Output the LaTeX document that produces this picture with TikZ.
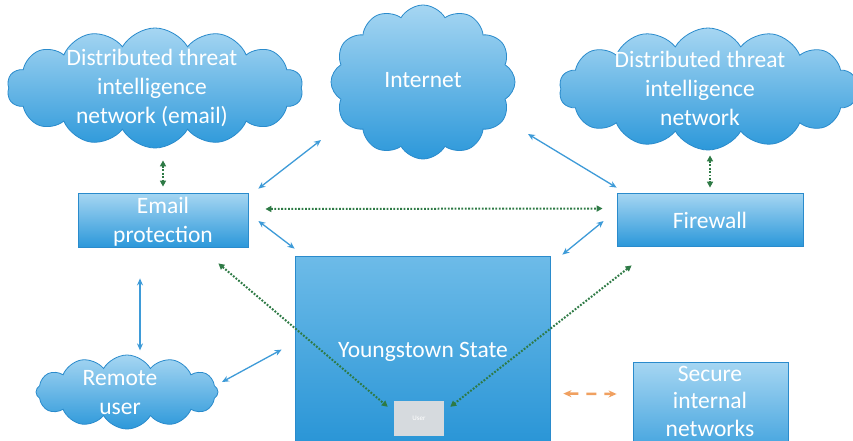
\documentclass[tikz,border=0pt]{standalone}
\usepackage{fontspec}
\setmainfont{Carlito}
\usetikzlibrary{shapes.symbols,arrows.meta,calc}
\definecolor{ftop}{HTML}{A6D6F2}
\definecolor{fbot}{HTML}{2C98DA}
\definecolor{ytop}{HTML}{6DBBE8}
\definecolor{ybot}{HTML}{2090D4}
\definecolor{edgeblue}{HTML}{2A8BCC}
\definecolor{barr}{HTML}{3E9BD8}
\definecolor{gdot}{HTML}{2E7A45}
\definecolor{oarr}{HTML}{F0A060}
\definecolor{usergrey}{HTML}{D6DADE}
\tikzset{
  cloudshape/.style={cloud, cloud puffs=#1, cloud puff arc=120, draw=edgeblue, line width=0.8pt,
    top color=ftop, bottom color=fbot, inner sep=0pt, cloud ignores aspect},
  cloudshape/.default=12,
  boxshape/.style={rectangle, draw=edgeblue, line width=0.8pt, top color=ftop, bottom color=fbot, inner sep=0pt},
  lbl/.style={text=white, font=\fontsize{23.5}{29}\selectfont, align=center, inner sep=0pt},
  barrow/.style={draw=barr, line width=1.3pt, {Stealth[length=7pt,width=6pt]}-{Stealth[length=7pt,width=6pt]}},
  garrow/.style={draw=gdot, line width=2pt, dash pattern=on 1.8pt off 1.6pt,
    {Triangle[length=6pt,width=6pt]}-{Triangle[length=6pt,width=6pt]}},
  oarrow/.style={draw=oarr, line width=2.5pt, dash pattern=on 10pt off 8pt,
    {Stealth[length=8pt,width=7pt]}-{Stealth[length=8pt,width=7pt]}}
}
\begin{document}
\begin{tikzpicture}[x=1pt,y=-1pt]
\useasboundingbox (0,0) rectangle (853,440);
\clip (0,0) rectangle (853,440);
\fill[white] (0,0) rectangle (853,440);

% clouds
\node[cloudshape=14, minimum width=296pt, minimum height=120pt] (ltc) at (155,88) {};
\node[lbl] (ltct) at (152,88) {Distributed threat\\intelligence\\network (email)};
\node[cloudshape=12, minimum width=184pt, minimum height=154pt] (inet) at (423,82) {};
\node[lbl] (inett) at (423,80) {Internet};
\node[cloudshape=14, minimum width=298pt, minimum height=122pt] (rtc) at (708,89) {};
\node[lbl] (rtct) at (700,88) {Distributed threat\\intelligence\\network};
\node[cloudshape=12, minimum width=182pt, minimum height=74pt] (ru) at (127,392) {};
\node[lbl] (rut) at (120,393) {Remote\\user};

% boxes
\node[boxshape, minimum width=170pt, minimum height=54pt] (ep) at (163,220) {};
\node[lbl] (ept) at (163,221.5) {Email\\protection};
\node[boxshape, minimum width=186pt, minimum height=53pt] (fw) at (710,219.5) {};
\node[lbl] (fwt) at (710,220) {Firewall};
\node[rectangle, draw=edgeblue, line width=0.8pt, top color=ytop, bottom color=ybot, inner sep=0pt,
  minimum width=255pt, minimum height=214pt] (ys) at (422.5,363) {};
\node[lbl] (yst) at (423,352) {Youngstown State};
\node[rectangle, fill=usergrey, inner sep=0pt, minimum width=50pt, minimum height=35pt,
  text=white, font=\fontsize{7}{8}\selectfont] (usr) at (419,418.5) {User};
\node[boxshape, minimum width=155pt, minimum height=108pt] (sec) at (710.5,416) {};
\node[lbl, font=\fontsize{23.5}{27.5}\selectfont] (sect) at (710,401) {Secure\\internal\\networks};

% green dotted connectors
\draw[garrow, shorten <=12pt, shorten >=6pt] (ep.north |- ltc.south) -- (ep.north);
\draw[garrow, shorten <=5pt, shorten >=5pt] (fw.north |- rtc.south) -- (fw.north);
\draw[garrow, shorten <=17pt, shorten >=14pt] ($(ep.east)+(0,-11)$) -- ($(fw.west)+(0,-11)$);
\draw[garrow] ($(ep.south east)+(-30,16)$) -- ($(usr.north west)+(-6,6)$);
\draw[garrow] ($(fw.south west)+(15,19)$) -- ($(usr.north east)+(6,6)$);

% blue connectors
\draw[barrow] ($(inet.center)+(-102,58)$) -- ($(ep.north east)+(10,-4)$);
\draw[barrow] ($(inet.center)+(105,52)$) -- ($(fw.north west)+(0,-5)$);
\draw[barrow] ($(ep.east)+(10,1)$) -- ($(ys.north west)+(0,-7)$);
\draw[barrow] ($(fw.west)+(-13,1.5)$) -- ($(ys.north east)+(12,-1)$);
\draw[barrow] ($(ep.south)+(-23,31)$) -- ($(ep.south)+(-23,103)$);
\draw[barrow] ($(ru.center)+(95,-10)$) -- ($(ys.north west)+(-13,94)$);

% orange dashed connector
\draw[oarrow] ($(ys.north east)+(13,138)$) -- ($(sec.west)+(-16,-22)$);
\end{tikzpicture}
\end{document}
